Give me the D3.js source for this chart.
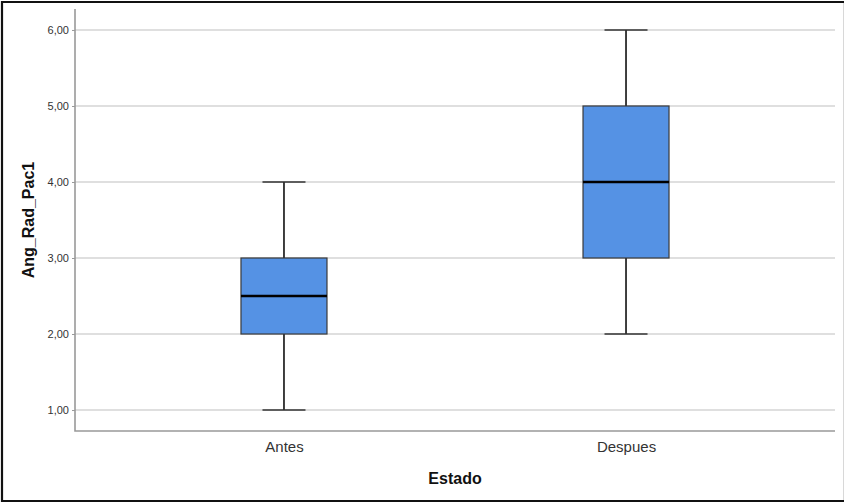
<!DOCTYPE html>
<html>
<head>
<meta charset="utf-8">
<script src="https://cdn.jsdelivr.net/npm/d3@7"></script>
<style>
  html, body { margin: 0; padding: 0; background: #fff; }
  svg { display: block; }
</style>
</head>
<body>
<script>
// Box-plot summary per group
const categories = ["Antes", "Despues"];
const minValues = [1, 2];
const q1Values = [2, 3];
const medianValues = [2.5, 4];
const q3Values = [3, 5];
const maxValues = [4, 6];
const yTicks = [1, 2, 3, 4, 5, 6];
const xTitle = "Estado";
const yTitle = "Ang_Rad_Pac1";

const W = 845, H = 504;
const plot = { left: 75, right: 835, top: 9, bottom: 431 };

const svg = d3.select("body").append("svg").attr("width", W).attr("height", H);
svg.append("rect").attr("width", W).attr("height", H).attr("fill", "#fff");

// Outer frame
svg.append("line").attr("x1", 843.5).attr("x2", 843.5).attr("y1", 2).attr("y2", 501)
  .attr("stroke", "#d8d8d8").attr("stroke-width", 1);
svg.append("path").attr("d", `M${844},2 H2 V501 H${844}`)
  .attr("fill", "none").attr("stroke", "#111").attr("stroke-width", 2.2);

const y = d3.scaleLinear().domain([0.724, 6.276]).range([plot.bottom, plot.top]);
const x = d3.scalePoint().domain(categories).range([plot.left, plot.right]).padding(0.611);

const font = "'Liberation Sans', Arial, sans-serif";

// Grid lines
svg.append("g").selectAll("line").data(yTicks).join("line")
  .attr("x1", plot.left).attr("x2", plot.right)
  .attr("y1", d => y(d)).attr("y2", d => y(d))
  .attr("stroke", "#d4d4d4").attr("stroke-width", 1.3);

// Y axis
const yAxis = svg.append("g").attr("transform", `translate(${plot.left},0)`)
  .call(d3.axisLeft(y).tickValues(yTicks).tickSize(3).tickPadding(3)
    .tickFormat(d => d3.format(".2f")(d).replace(".", ",")));
yAxis.select(".domain").remove();
yAxis.selectAll(".tick line").attr("stroke", "#999");
yAxis.selectAll("text").attr("font-family", font).attr("font-size", 11).attr("fill", "#333");

// X axis
const xAxis = svg.append("g").attr("transform", `translate(0,${plot.bottom})`)
  .call(d3.axisBottom(x).tickSize(0).tickPadding(10));
xAxis.select(".domain").remove();
xAxis.selectAll("text").attr("font-family", font).attr("font-size", 15).attr("fill", "#333");

// Axis lines
svg.append("path")
  .attr("d", `M${plot.left},${plot.top} V${plot.bottom} H${plot.right}`)
  .attr("fill", "none").attr("stroke", "#999").attr("stroke-width", 1.6);

// Boxes
const boxW = 86, capW = 43;
const rows = categories.map((c, i) => ({
  c, min: minValues[i], q1: q1Values[i], med: medianValues[i], q3: q3Values[i], max: maxValues[i]
}));
const g = svg.append("g").selectAll("g").data(rows).join("g");

g.append("line").attr("x1", d => x(d.c)).attr("x2", d => x(d.c))
  .attr("y1", d => y(d.max)).attr("y2", d => y(d.q3)).attr("stroke", "#000").attr("stroke-width", 1.5);
g.append("line").attr("x1", d => x(d.c)).attr("x2", d => x(d.c))
  .attr("y1", d => y(d.q1)).attr("y2", d => y(d.min)).attr("stroke", "#000").attr("stroke-width", 1.5);
g.append("line").attr("x1", d => x(d.c) - capW / 2).attr("x2", d => x(d.c) + capW / 2)
  .attr("y1", d => y(d.max)).attr("y2", d => y(d.max)).attr("stroke", "#333").attr("stroke-width", 1.3);
g.append("line").attr("x1", d => x(d.c) - capW / 2).attr("x2", d => x(d.c) + capW / 2)
  .attr("y1", d => y(d.min)).attr("y2", d => y(d.min)).attr("stroke", "#333").attr("stroke-width", 1.3);
g.append("rect")
  .attr("x", d => x(d.c) - boxW / 2).attr("width", boxW)
  .attr("y", d => y(d.q3)).attr("height", d => y(d.q1) - y(d.q3))
  .attr("fill", "#5592e4").attr("stroke", "#3a3a3a").attr("stroke-width", 1.2);
g.append("line").attr("x1", d => x(d.c) - boxW / 2).attr("x2", d => x(d.c) + boxW / 2)
  .attr("y1", d => y(d.med)).attr("y2", d => y(d.med)).attr("stroke", "#000").attr("stroke-width", 2.6);

// Titles
svg.append("text").attr("x", (plot.left + plot.right) / 2).attr("y", 484)
  .attr("text-anchor", "middle").attr("font-family", font).attr("font-weight", "bold")
  .attr("font-size", 16).attr("fill", "#111").text(xTitle);
svg.append("text").attr("transform", `translate(34,${(plot.top + plot.bottom) / 2}) rotate(-90)`)
  .attr("text-anchor", "middle").attr("font-family", font).attr("font-weight", "bold")
  .attr("font-size", 16).attr("fill", "#111").text(yTitle);
</script>
</body>
</html>
